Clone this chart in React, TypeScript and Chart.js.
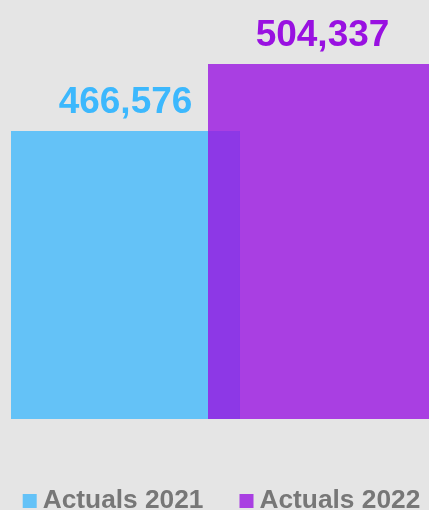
import React, { useEffect, useRef } from "react";
import { Chart, registerables } from "chart.js";

Chart.register(...registerables);

const categories = ["Actuals 2021", "Actuals 2022"];
const seriesNames = ["Actuals 2021", "Actuals 2022"];
const values2021 = [466576, null];
const values2022 = [null, 504337];
const yMin = 304259;
const yMax = 540407;

const BLUE = "rgba(64,184,253,0.78)";
const PURPLE = "rgba(153,17,225,0.78)";
const BLUE_TEXT = "#3cb8fd";
const PURPLE_TEXT = "#9911e1";
const FONT = '"Liberation Sans", Arial, sans-serif';
const CLIP = { left: false, right: false, top: false, bottom: 0 };

const valueLabels = {
  id: "valueLabels",
  afterDatasetsDraw(chart: any) {
    const ctx = chart.ctx;
    ctx.save();
    ctx.font = `bold 37px ${FONT}`;
    ctx.textAlign = "center";
    ctx.textBaseline = "alphabetic";
    chart.data.datasets.forEach((ds: any, i: number) => {
      const meta = chart.getDatasetMeta(i);
      meta.data.forEach((el: any, j: number) => {
        const v = ds.data[j];
        if (v == null) return;
        ctx.fillStyle = ds.labelColor;
        ctx.fillText(v.toLocaleString("en-US"), el.x, el.y - 18);
      });
    });
    ctx.restore();
  },
};

const customLegend = {
  id: "customLegend",
  afterDraw(chart: any) {
    const ctx = chart.ctx;
    ctx.save();
    ctx.font = `bold 26.3px ${FONT}`;
    ctx.textBaseline = "alphabetic";
    ctx.textAlign = "left";
    const items = [
      { text: seriesNames[0], color: BLUE },
      { text: seriesNames[1], color: PURPLE },
    ];
    const box = 14;
    const gapBox = 6;
    const gapItems = 36;
    const widths = items.map((it) => box + gapBox + ctx.measureText(it.text).width);
    const total = widths[0] + widths[1] + gapItems;
    let x = (chart.width - total) / 2;
    const baseline = 508;
    items.forEach((it, i) => {
      ctx.fillStyle = it.color;
      ctx.fillRect(x, baseline - box, box, box);
      ctx.fillStyle = "#777777";
      ctx.fillText(it.text, x + box + gapBox, baseline);
      x += widths[i] + gapItems;
    });
    ctx.restore();
  },
};

export default function App() {
  const ref = useRef<HTMLCanvasElement | null>(null);
  useEffect(() => {
    if (!ref.current) return;
    const chart = new Chart(ref.current, {
      type: "bar",
      data: {
        labels: categories,
        datasets: [
          {
            label: seriesNames[1],
            data: values2022,
            backgroundColor: PURPLE,
            labelColor: PURPLE_TEXT,
            clip: CLIP,
          } as any,
          {
            label: seriesNames[0],
            data: values2021,
            backgroundColor: BLUE,
            labelColor: BLUE_TEXT,
            clip: CLIP,
          } as any,
        ],
      },
      options: {
        animation: false,
        responsive: false,
        devicePixelRatio: 1,
        datasets: {
          bar: {
            grouped: false,
            categoryPercentage: 1,
            barPercentage: 1.1624,
          },
        },
        layout: { padding: { left: 27, right: 22, top: 0, bottom: 91 } },
        scales: {
          x: { display: false, offset: true },
          y: { display: false, beginAtZero: false, min: yMin, max: yMax },
        },
        plugins: {
          legend: { display: false },
          tooltip: { enabled: false },
        },
      },
      plugins: [valueLabels, customLegend],
    });
    return () => chart.destroy();
  }, []);
  return (
    <div
      style={{
        position: "fixed",
        left: 0,
        top: 0,
        width: 429,
        height: 510,
        overflow: "hidden",
        background: "#e5e5e5",
      }}
    >
      <canvas ref={ref} width={443} height={510} style={{ display: "block" }} />
    </div>
  );
}
